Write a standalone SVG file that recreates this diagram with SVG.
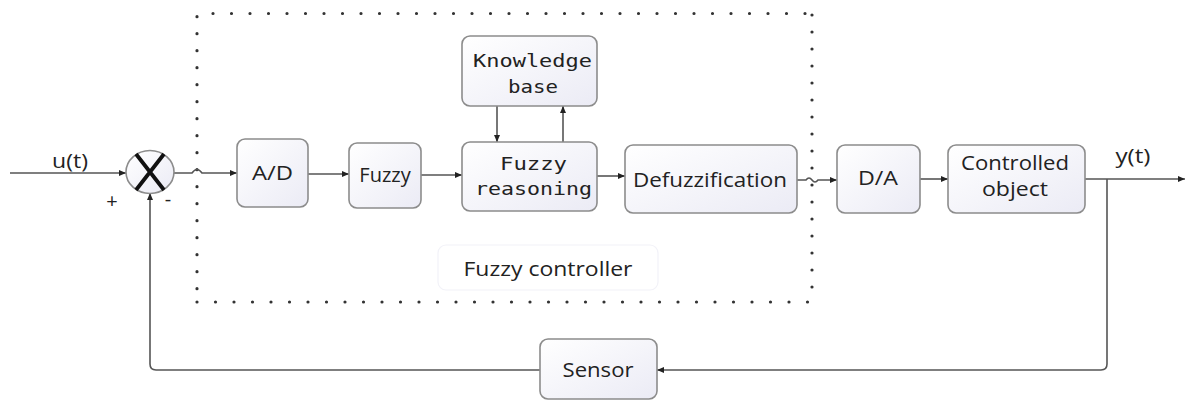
<svg xmlns="http://www.w3.org/2000/svg" width="1187" height="401" viewBox="0 0 1187 401">
<defs>
<linearGradient id="g" x1="0" y1="0" x2="1" y2="1">
<stop offset="0" stop-color="#ffffff"/>
<stop offset="1" stop-color="#ebebf5"/>
</linearGradient>
<marker id="a" markerWidth="8" markerHeight="8" refX="7" refY="4" orient="auto" markerUnits="userSpaceOnUse">
<path d="M0,1 L7,4 L0,7 Z" fill="#222"/>
</marker>
<style>
.box{fill:url(#g);stroke:#8c8c8c;stroke-width:1.6}
.t{font-family:"Open Sans","Liberation Sans",sans-serif;font-size:20px;fill:#222;text-anchor:middle}
.m{font-family:"DejaVu Sans Mono","Liberation Mono",monospace;font-size:18px;fill:#222;text-anchor:middle}
.c{fill:none;stroke:#555;stroke-width:1.6}
.dot{stroke:#333;stroke-width:3.2;stroke-linecap:round;stroke-dasharray:0 18.5;fill:none}
.dotv{stroke:#333;stroke-width:3.2;stroke-linecap:round;stroke-dasharray:0 17;fill:none}
</style>
</defs>

<g id="fuzzy-controller-frame">
<line class="dot" x1="213" y1="13.5" x2="806" y2="13.5"/>
<line class="dot" x1="197" y1="302" x2="812" y2="302"/>
<line class="dotv" x1="197" y1="16.7" x2="197" y2="290"/>
<line class="dotv" x1="812" y1="15" x2="812" y2="290"/>
<rect x="438" y="245" width="220" height="45" rx="8" fill="#fff" stroke="#f2f2f8" stroke-width="1.2"/>
<text class="t" x="548" y="276" textLength="169" lengthAdjust="spacingAndGlyphs">Fuzzy controller</text>
</g>

<g id="connectors">
<line class="c" x1="10" y1="173" x2="126" y2="173" marker-end="url(#a)"/>
<path class="c" d="M174,173 H192 Q197,166 202,173 H237" marker-end="url(#a)"/>
<line class="c" x1="308" y1="174" x2="349" y2="174" marker-end="url(#a)"/>
<line class="c" x1="421" y1="175" x2="462" y2="175" marker-end="url(#a)"/>
<line class="c" x1="597" y1="176" x2="625" y2="176" marker-end="url(#a)"/>
<path class="c" d="M797,180 H806 Q809,176 812,180 Q815,184 818,180 H837" marker-end="url(#a)"/>
<line class="c" x1="920" y1="179" x2="948" y2="179" marker-end="url(#a)"/>
<line class="c" x1="1085" y1="179" x2="1185" y2="179" marker-end="url(#a)"/>
<line class="c" x1="497" y1="106" x2="497" y2="142" marker-end="url(#a)"/>
<line class="c" x1="563" y1="142" x2="563" y2="106" marker-end="url(#a)"/>
<path class="c" d="M1107,179 V364 Q1107,370 1101,370 H657" marker-end="url(#a)"/>
<path class="c" d="M540,370 H156 Q150,370 150,364 V193" marker-end="url(#a)"/>
</g>

<g id="sum">
<ellipse cx="150" cy="172" rx="24" ry="21.5" fill="url(#g)" stroke="#8c8c8c" stroke-width="1.6"/>
<path d="M136,154 L164,190 M164,154 L136,190" stroke="#111" stroke-width="3.8"/>
<text class="t" x="112" y="208" font-size="16">+</text>
<text class="t" x="168" y="206" font-size="16">-</text>
</g>

<g id="input-label"><text class="t" x="70" y="168" textLength="36" lengthAdjust="spacingAndGlyphs">u(t)</text></g>
<g id="output-label"><text class="t" x="1133" y="163" textLength="35" lengthAdjust="spacingAndGlyphs">y(t)</text></g>

<g id="ad">
<rect class="box" x="237" y="139" width="71" height="68" rx="8"/>
<text class="t" x="272.5" y="180" textLength="41" lengthAdjust="spacingAndGlyphs">A/D</text>
</g>
<g id="fuzzy">
<rect class="box" x="349" y="143" width="72" height="65" rx="8"/>
<text class="t" x="385" y="182">Fuzzy</text>
</g>
<g id="knowledge-base">
<rect class="box" x="462" y="36" width="135" height="70" rx="8"/>
<text class="m" x="532.5" y="67" textLength="119" lengthAdjust="spacingAndGlyphs">Knowledge</text>
<text class="m" x="533" y="93" textLength="50" lengthAdjust="spacingAndGlyphs">base</text>
</g>
<g id="fuzzy-reasoning">
<rect class="box" x="462" y="142" width="135" height="69" rx="8"/>
<text class="m" x="533.5" y="170" textLength="67" lengthAdjust="spacingAndGlyphs">Fuzzy</text>
<text class="m" x="533.5" y="195" textLength="117" lengthAdjust="spacingAndGlyphs">reasoning</text>
</g>
<g id="defuzzification">
<rect class="box" x="625" y="145" width="172" height="68" rx="8"/>
<text class="t" x="710" y="187" textLength="154" lengthAdjust="spacingAndGlyphs">Defuzzification</text>
</g>
<g id="da">
<rect class="box" x="837" y="145" width="83" height="68" rx="8"/>
<text class="t" x="878" y="185" textLength="40" lengthAdjust="spacingAndGlyphs">D/A</text>
</g>
<g id="controlled-object">
<rect class="box" x="948" y="145" width="137" height="68" rx="8"/>
<text class="t" x="1015" y="170" font-size="19" textLength="108" lengthAdjust="spacingAndGlyphs">Controlled</text>
<text class="t" x="1015" y="196" font-size="19" textLength="66" lengthAdjust="spacingAndGlyphs">object</text>
</g>
<g id="sensor">
<rect class="box" x="540" y="339" width="117" height="60" rx="8"/>
<text class="t" x="598" y="377" textLength="71" lengthAdjust="spacingAndGlyphs">Sensor</text>
</g>
</svg>
